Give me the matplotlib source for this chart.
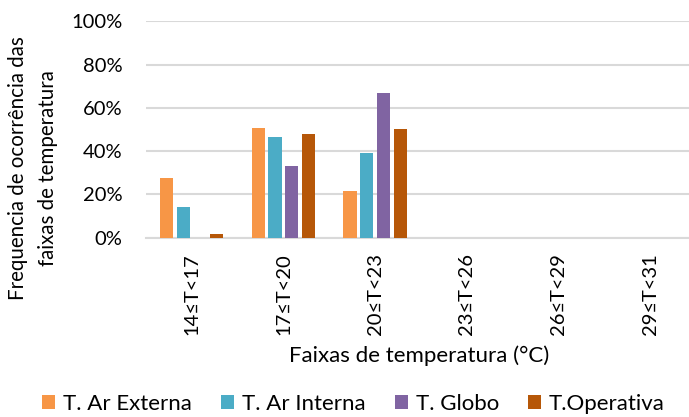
import matplotlib
matplotlib.use("Agg")
import matplotlib.pyplot as plt
import numpy as np

plt.rcParams['font.family'] = ['Lato', 'DejaVu Sans']

categories = ["14≤T<17", "17≤T<20", "20≤T<23", "23≤T<26", "26≤T<29", "29≤T<31"]
series_names = ["T. Ar Externa", "T. Ar Interna", "T. Globo", "T.Operativa"]
ar_externa = [27.6, 50.8, 21.6, 0, 0, 0]
ar_interna = [14.3, 46.4, 39.3, 0, 0, 0]
globo = [0, 33.3, 66.7, 0, 0, 0]
operativa = [1.9, 48.1, 50.0, 0, 0, 0]
yticks = [0, 20, 40, 60, 80, 100]

colors = ["#F79646", "#4BACC6", "#8064A2", "#B65708"]
series = [ar_externa, ar_interna, globo, operativa]

fig = plt.figure(figsize=(6.89, 4.17), dpi=100)
ax = fig.add_axes([0.2116, 0.43, 0.799, 0.519])

x = np.arange(len(categories))
pitch = 0.182
width = 0.145
for i, (vals, c, name) in enumerate(zip(series, colors, series_names)):
    ax.bar(x + (i - 1.5) * pitch, vals, width=width, color=c, label=name, zorder=3)

ax.set_xlim(-0.5, len(categories) - 0.5)
ax.set_ylim(0, 100)
ax.set_yticks(yticks)
ax.set_yticklabels([f"{v}%" for v in yticks], fontsize=14.5)
ax.set_xticks(x)
ax.set_xticklabels(categories, rotation=90, fontsize=14.5)
ax.tick_params(axis='x', length=0, pad=11)
ax.tick_params(axis='y', length=0, pad=17)
ax.yaxis.grid(True, color="#d9d9d9", linewidth=1.5, zorder=0)
for s in ["top", "right", "left"]:
    ax.spines[s].set_visible(False)
ax.spines["bottom"].set_color("#d9d9d9")
ax.spines["bottom"].set_linewidth(1.5)

fig.text(0.609, 0.146, "Faixas de temperatura (°C)", ha="center", va="center", fontsize=16)
fig.text(0.048, 0.597, "Frequencia de ocorrência das\nfaixas de temperatura", rotation=90,
         ha="center", va="center", fontsize=14.8, linespacing=1.6)

fig.legend(loc="center", bbox_to_anchor=(0.513, 0.031), ncol=4, frameon=False, fontsize=16,
           handlelength=0.6, handleheight=0.6, handletextpad=0.35, columnspacing=1.3,
           borderpad=0)

fig.savefig("out.png", dpi=100)
